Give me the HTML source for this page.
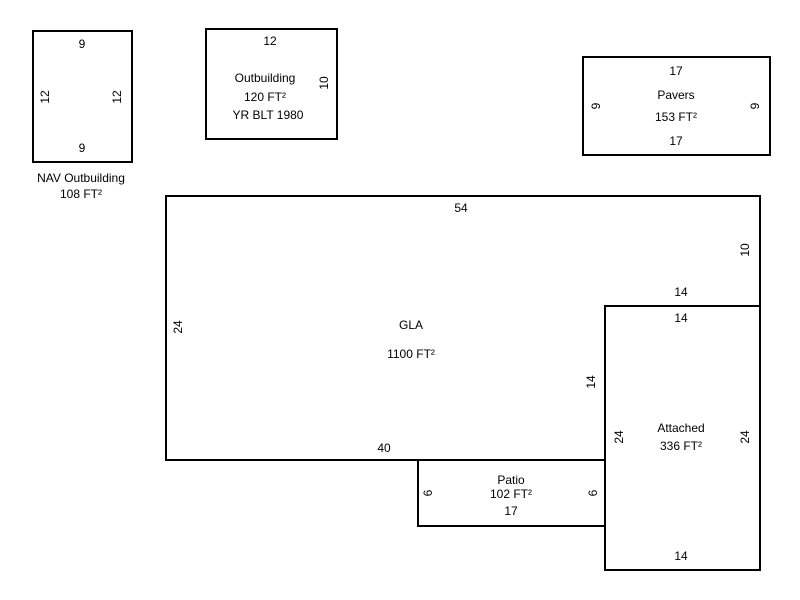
<!DOCTYPE html>
<html><head><meta charset="utf-8"><style>
html,body{margin:0;padding:0;background:#fff;}
svg{display:block;}
text{font-family:"Liberation Sans",Arial,sans-serif;font-size:12px;fill:#000;text-anchor:middle;dominant-baseline:central;}
</style></head><body>
<svg width="800" height="600" viewBox="0 0 800 600" xmlns="http://www.w3.org/2000/svg">
<g fill="none" stroke="#000" stroke-width="2">
<rect x="33" y="31" width="99" height="131"/>
<rect x="206" y="29" width="131" height="110"/>
<rect x="583" y="57" width="187" height="98"/>
<polygon points="166,196 760,196 760,306 605,306 605,460 166,460"/>
<rect x="605" y="306" width="155" height="264"/>
<rect x="418" y="460" width="187" height="66"/>
</g>
<text x="82" y="44">9</text>
<text x="82" y="148">9</text>
<text transform="translate(45,97) rotate(-90)">12</text>
<text transform="translate(117,97) rotate(-90)">12</text>
<text x="81" y="178">NAV Outbuilding</text>
<text x="81" y="194">108 FT²</text>

<text x="270" y="41">12</text>
<text transform="translate(324,83) rotate(-90)">10</text>
<text x="265" y="78">Outbuilding</text>
<text x="265" y="97">120 FT²</text>
<text x="268" y="115">YR BLT 1980</text>

<text x="676" y="71">17</text>
<text x="676" y="95">Pavers</text>
<text x="676" y="117">153 FT²</text>
<text x="676" y="141">17</text>
<text transform="translate(596,106) rotate(-90)">9</text>
<text transform="translate(755,106) rotate(-90)">9</text>

<text x="461" y="208">54</text>
<text transform="translate(745,250) rotate(-90)">10</text>
<text x="681" y="292">14</text>
<text transform="translate(178,327) rotate(-90)">24</text>
<text x="411" y="325">GLA</text>
<text x="411" y="354">1100 FT²</text>
<text transform="translate(591,382) rotate(-90)">14</text>
<text x="384" y="448">40</text>

<text x="681" y="318">14</text>
<text x="681" y="428">Attached</text>
<text x="681" y="446">336 FT²</text>
<text transform="translate(619,437) rotate(-90)">24</text>
<text transform="translate(745,437) rotate(-90)">24</text>
<text x="681" y="556">14</text>

<text x="511" y="480">Patio</text>
<text x="511" y="494">102 FT²</text>
<text x="511" y="511">17</text>
<text transform="translate(428,493) rotate(-90)">6</text>
<text transform="translate(593,493) rotate(-90)">6</text>
</svg>
</body></html>
